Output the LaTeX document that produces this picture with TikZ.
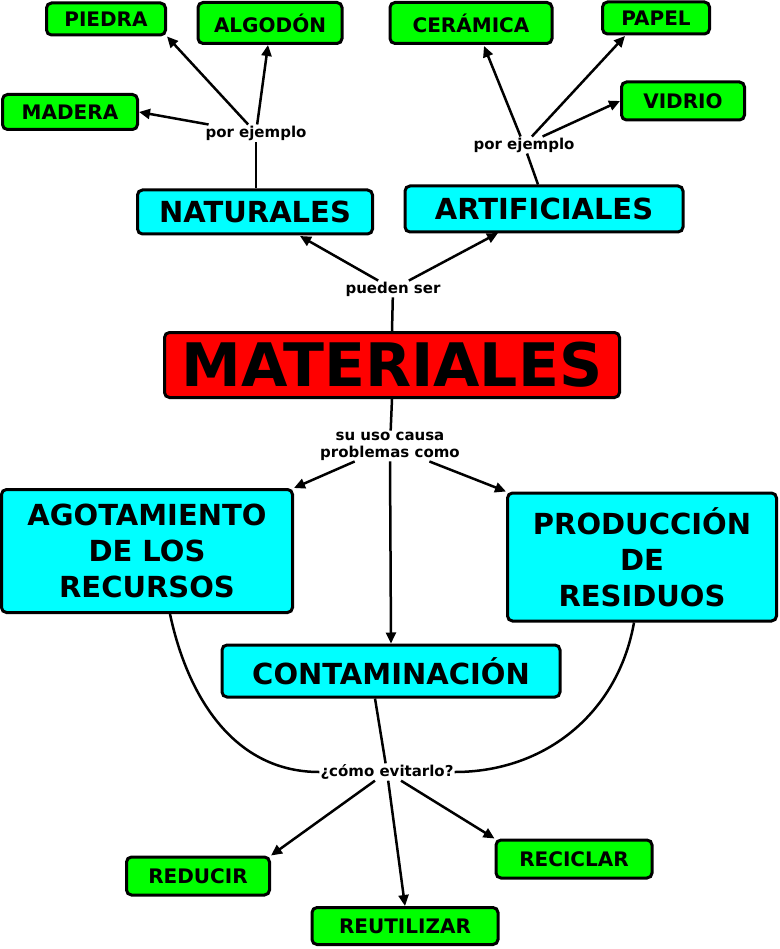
\documentclass[tikz,border=0pt]{standalone}
\usepackage{fontspec}
\setmainfont{DejaVu Sans}
\usetikzlibrary{arrows.meta}
\definecolor{verde}{RGB}{0,255,0}
\definecolor{cian}{RGB}{0,255,255}
\definecolor{rojo}{RGB}{255,0,0}
\begin{document}
\begin{tikzpicture}
        [x=1pt,y=-1pt,font=\bfseries,
         ejemplo/.style={draw,line width=3pt,rounded corners=5pt,fill=verde,font=\fontsize{20}{22}\bfseries,inner sep=0pt},
         tipo/.style={draw,line width=3pt,rounded corners=5pt,fill=cian,font=\fontsize{29}{36}\bfseries,inner sep=0pt,align=center},
         enlace/.style={fill=white,font=\fontsize{15}{17}\bfseries,inner sep=1pt,align=center},
         every edge/.style={draw,line width=2.5pt},
         flecha/.style={-{Triangle[length=11pt,width=10pt]}}]
        \useasboundingbox (0,0) rectangle (779,949);
        \node[ejemplo,minimum width=119,minimum height=32]  (PI) at (106,19)  {PIEDRA};
        \node[ejemplo,minimum width=144,minimum height=41]  (AL) at (270,23)  {ALGODÓN};
        \node[ejemplo,minimum width=135,minimum height=35]  (MA) at (70,112)  {MADERA};
        \node[ejemplo,minimum width=162,minimum height=41]  (CE) at (471,23)  {CERÁMICA};
        \node[ejemplo,minimum width=107,minimum height=32]  (PA) at (656,18)  {PAPEL};
        \node[ejemplo,minimum width=123,minimum height=38]  (VI) at (683,101) {VIDRIO};
        \node[tipo,minimum width=235,minimum height=44]  (NA) at (255,212) {NATURALES};
        \node[tipo,minimum width=278,minimum height=46]  (AR) at (544,209) {ARTIFICIALES};
        \node[draw,line width=3pt,rounded corners=5pt,fill=rojo,font=\fontsize{60}{60}\bfseries,
              minimum width=455,minimum height=65,inner sep=0pt]  (M) at (392,365) {MATERIALES};
        \node[tipo,minimum width=291,minimum height=123]  (AG) at (147,551) {AGOTAMIENTO\\DE LOS\\RECURSOS};
        \node[tipo,minimum width=269,minimum height=128]  (PR) at (642,557) {PRODUCCIÓN\\DE\\RESIDUOS};
        \node[tipo,minimum width=338,minimum height=52]  (CO) at (391,671) {CONTAMINACIÓN};
        \node[ejemplo,minimum width=143,minimum height=38]  (RD) at (198,876) {REDUCIR};
        \node[ejemplo,minimum width=156,minimum height=38]  (RC) at (574,859) {RECICLAR};
        \node[ejemplo,minimum width=186,minimum height=37]  (RU) at (405,926) {REUTILIZAR};

        \node[enlace]  (e1) at (256,133) {por ejemplo};
        \node[enlace]  (e2) at (524,145) {por ejemplo};
        \node[enlace]  (e3) at (393,289) {pueden ser};
        \node[enlace]  (e4) at (390,446) {su uso causa\\problemas como};
        \node[enlace]  (e5) at (387,772) {¿cómo evitarlo?};

        \begin{scope}[on background layer/.style={}]
        \path (NA.north -| e1) edge (e1)
        (AR.north -| 538,0) edge (e2)
        (M.north) edge (e3)
        (M.south) edge (e4)
        (CO.south -| 375,0) edge (e5)
        (AG.south -| 170,0) edge [out=-78,in=180] (e5.west)
        (PR.south -| 634,0) edge [out=-100,in=0] (e5.east);
        \end{scope}

        \path [flecha]
        (e1) edge (PI.south east)
        (e1) edge (268,45)
        (e1) edge (MA.east)
        (e2) edge (484,46)
        (e2) edge (625,36)
        (e2) edge (VI.west)
        (e3) edge (300,236)
        (e3) edge (498,233)
        (e4) edge (AG.north east)
        (e4.south) edge (CO.north)
        (e4) edge (PR.north west)
        (e5) edge (RD.north east)
        (e5) edge (RU.north)
        (e5) edge (RC.north west);
\end{tikzpicture}
\end{document}
